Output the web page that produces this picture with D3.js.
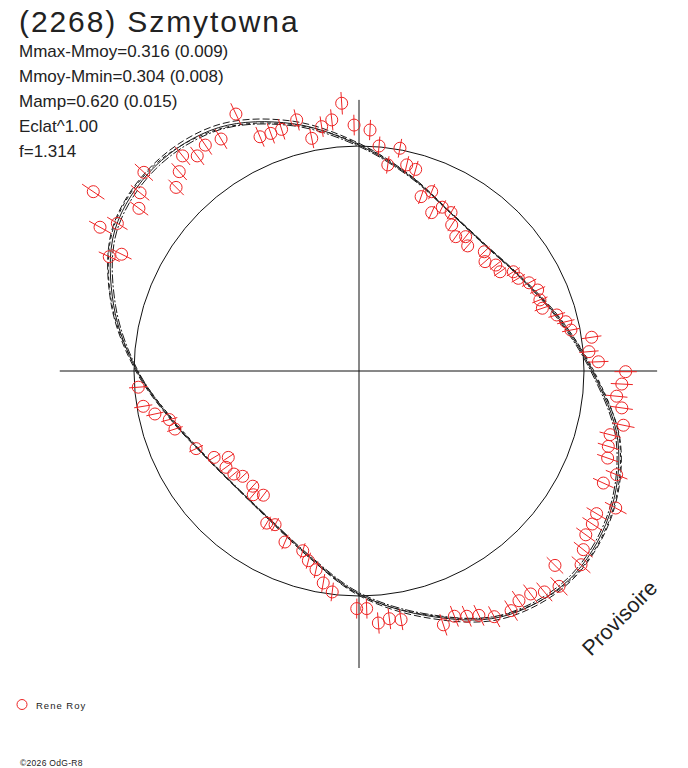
<!DOCTYPE html>
<html>
<head>
<meta charset="utf-8">
<script src="https://cdn.jsdelivr.net/npm/d3@7"></script>
<style>
  body { margin: 0; background: #fff; }
  text { font-family: "Liberation Sans", Arial, sans-serif; fill: #222; }
</style>
</head>
<body>
<div id="chart"></div>
<script>
// polar lightcurve, radius 1 = mean magnitude circle
const title = "(2268) Szmytowna";
const infoLines = ["Mmax-Mmoy=0.316 (0.009)", "Mmoy-Mmin=0.304 (0.008)", "Mamp=0.620 (0.015)", "Eclat^1.00", "f=1.314"];
const observer = "Rene Roy";
const credit = "©2026 OdG-R8";
const stamp = "Provisoire";

// fit curves sampled every 15 degrees of position angle
const fitAngles = [0, 15, 30, 45, 60, 75, 90, 105, 120, 135, 150, 165, 180, 195, 210, 225, 240, 255, 270, 285, 300, 315, 330, 345];
const fitA = [1.036, 0.916, 0.831, 0.793, 0.813, 0.893, 1.004, 1.138, 1.249, 1.284, 1.253, 1.129, 0.987, 0.858, 0.778, 0.751, 0.773, 0.853, 0.991, 1.124, 1.262, 1.316, 1.284, 1.191];
const fitB = [1.040, 0.922, 0.834, 0.795, 0.815, 0.897, 1.012, 1.150, 1.262, 1.296, 1.266, 1.140, 0.992, 0.861, 0.780, 0.753, 0.776, 0.858, 0.998, 1.134, 1.272, 1.326, 1.296, 1.202];
const fitC = [1.030, 0.911, 0.828, 0.791, 0.811, 0.889, 0.998, 1.128, 1.238, 1.274, 1.243, 1.120, 0.982, 0.855, 0.776, 0.749, 0.771, 0.849, 0.985, 1.116, 1.254, 1.307, 1.276, 1.183];
const fitD = [1.044, 0.920, 0.830, 0.790, 0.812, 0.896, 1.008, 1.134, 1.242, 1.290, 1.262, 1.137, 0.985, 0.852, 0.775, 0.752, 0.777, 0.857, 0.994, 1.120, 1.256, 1.321, 1.292, 1.199];

// observations (x, y in circle units)
const ptX = [-1.181, -1.151, -1.110, -1.055, -1.074, -0.978, -0.973, -0.956, -0.813, -0.799, -0.784, -0.719, -0.683, -0.613, -0.547, -0.440, -0.392, -0.344, -0.277, -0.210, -0.166, -0.121, -0.077, -0.022,
  0.049, 0.089, 0.182, 0.128, 0.212, 0.252, 0.323, 0.276, 0.323, 0.370, 0.409, 0.412, 0.430, 0.474, 0.483, 0.557, 0.560, 0.608, 0.627, 0.686, 0.708, 0.756, 0.794, 0.804, 0.815, 0.879, 0.919, 0.942, 1.034, 1.022, 1.064,
  1.185, 1.168, 1.145, 1.168, 1.175, 1.116, 1.108, 1.105, 1.145, 1.086, 1.141, 1.056, 1.037, 1.008, 0.997, 0.987, 0.871, 0.889, 0.824, 0.763, 0.711, 0.676, 0.601, 0.533, 0.479, 0.424, 0.375, 0.187, 0.135, 0.086, 0.034, -0.010,
  -0.981, -0.959, -0.907, -0.843, -0.818, -0.724, -0.644, -0.581, -0.591, -0.556, -0.517, -0.472, -0.470, -0.425, -0.410, -0.373, -0.329, -0.250, -0.225, -0.191, -0.159, -0.119];
const ptY = [0.797, 0.639, 0.508, 0.519, 0.656, 0.723, 0.792, 0.883, 0.816, 0.886, 0.956, 0.956, 1.004, 1.031, 1.142, 1.041, 1.056, 1.074, 1.116, 1.034, 1.086, 1.116, 1.190, 1.093,
  1.071, 1.000, 0.990, 0.916, 0.916, 0.896, 0.797, 0.775, 0.704, 0.728, 0.704, 0.649, 0.597, 0.597, 0.556, 0.530, 0.486, 0.471, 0.441, 0.441, 0.412, 0.392, 0.360, 0.316, 0.279, 0.249, 0.219, 0.182, 0.150, 0.086, 0.041,
  -0.003, -0.058, -0.112, -0.164, -0.241, -0.283, -0.335, -0.387, -0.461, -0.498, -0.609, -0.634, -0.680, -0.728, -0.794, -0.861, -0.864, -0.957, -0.982, -0.991, -1.021, -1.065, -1.092, -1.086, -1.090, -1.090, -1.128, -1.105, -1.101, -1.120, -1.056, -1.056,
  -0.072, -0.157, -0.191, -0.216, -0.258, -0.345, -0.384, -0.384, -0.428, -0.458, -0.468, -0.512, -0.550, -0.552, -0.676, -0.683, -0.760, -0.799, -0.843, -0.883, -0.942, -0.982];
const relErr = 0.042;

const axisX = [-1.33, 1.325];
const axisY = [-1.32, 1.205];

const svgWidth = 688;
const svgHeight = 768;
const cx = 359, cy = 371, R = 225;
const red = "#ee2424";

const svg = d3.select("#chart")
  .append("svg")
  .attr("width", svgWidth)
  .attr("height", svgHeight)
  .style("display", "block");

svg.append("rect").attr("width", svgWidth).attr("height", svgHeight).attr("fill", "#fff");

const xScale = d3.scaleLinear().domain([-1, 1]).range([cx - R, cx + R]);
const yScale = d3.scaleLinear().domain([-1, 1]).range([cy + R, cy - R]);

// axes cross
svg.append("line")
  .attr("x1", xScale(axisX[0])).attr("x2", xScale(axisX[1]))
  .attr("y1", yScale(0)).attr("y2", yScale(0))
  .attr("stroke", "#111").attr("stroke-width", 1);
svg.append("line")
  .attr("x1", xScale(0)).attr("x2", xScale(0))
  .attr("y1", yScale(axisY[1])).attr("y2", yScale(axisY[0]))
  .attr("stroke", "#111").attr("stroke-width", 1);

// mean circle
svg.append("circle")
  .attr("cx", xScale(0)).attr("cy", yScale(0))
  .attr("r", xScale(1) - xScale(0))
  .attr("fill", "none").attr("stroke", "#111").attr("stroke-width", 1);

// fitted curves
const line = d3.line()
  .x(d => xScale(d.r * Math.cos(d.a * Math.PI / 180)))
  .y(d => yScale(d.r * Math.sin(d.a * Math.PI / 180)))
  .curve(d3.curveCatmullRomClosed);

const fits = [
  { r: fitA, dash: null },
  { r: fitB, dash: "7,3" },
  { r: fitC, dash: "9,2,2,2" },
  { r: fitD, dash: "4,3" }
];

svg.selectAll(".fit")
  .data(fits)
  .enter()
  .append("path")
  .attr("class", "fit")
  .attr("d", f => line(fitAngles.map((a, i) => ({ a: a, r: f.r[i] }))))
  .attr("fill", "none")
  .attr("stroke", "#1a1a1a")
  .attr("stroke-width", 1)
  .attr("stroke-dasharray", f => f.dash);

// observations with radial error bars
const pts = ptX.map((x, i) => ({ x: x, y: ptY[i] }));
const obs = svg.selectAll(".obs")
  .data(pts)
  .enter()
  .append("g")
  .attr("class", "obs");

obs.append("line")
  .attr("x1", d => { const r = Math.hypot(d.x, d.y); return xScale(d.x - d.x / r * relErr * r); })
  .attr("y1", d => { const r = Math.hypot(d.x, d.y); return yScale(d.y - d.y / r * relErr * r); })
  .attr("x2", d => { const r = Math.hypot(d.x, d.y); return xScale(d.x + d.x / r * relErr * r); })
  .attr("y2", d => { const r = Math.hypot(d.x, d.y); return yScale(d.y + d.y / r * relErr * r); })
  .attr("stroke", red).attr("stroke-width", 1);

obs.append("circle")
  .attr("cx", d => xScale(d.x))
  .attr("cy", d => yScale(d.y))
  .attr("r", 6)
  .attr("fill", "none")
  .attr("stroke", red).attr("stroke-width", 1);

// header texts
svg.append("text")
  .attr("x", 19).attr("y", 32)
  .attr("font-size", 30)
  .attr("letter-spacing", 1.9)
  .text(title);

svg.selectAll(".info")
  .data(infoLines)
  .enter()
  .append("text")
  .attr("class", "info")
  .attr("x", 19)
  .attr("y", (d, i) => 57 + i * 25)
  .attr("font-size", 17)
  .text(d => d);

// stamp
svg.append("text")
  .attr("transform", "translate(591,657) rotate(-45)")
  .attr("font-size", 21.5)
  .text(stamp);

// legend
svg.append("circle")
  .attr("cx", 22).attr("cy", 704.5).attr("r", 5)
  .attr("fill", "none").attr("stroke", red).attr("stroke-width", 1);
svg.append("text")
  .attr("x", 36).attr("y", 709)
  .attr("font-size", 9.5)
  .attr("letter-spacing", 1.0)
  .text(observer);

svg.append("text")
  .attr("x", 20).attr("y", 766)
  .attr("font-size", 8.5)
  .attr("letter-spacing", 0.3)
  .text(credit);
</script>
</body>
</html>
